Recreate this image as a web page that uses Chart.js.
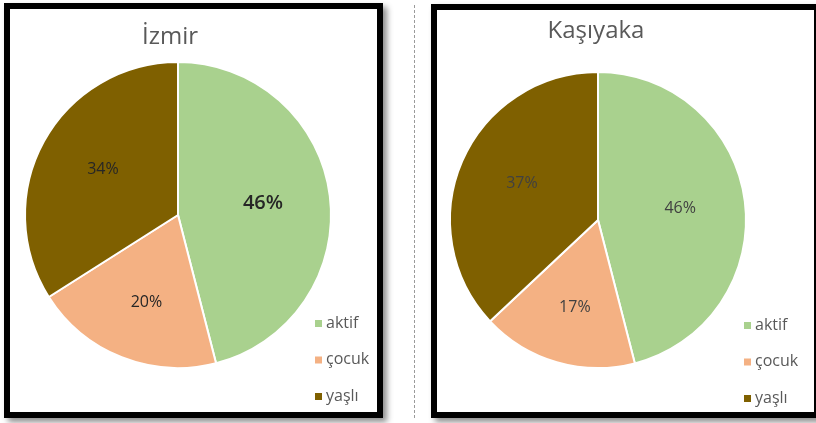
<!DOCTYPE html>
<html>
<head>
<meta charset="utf-8">
<script src="https://cdn.jsdelivr.net/npm/chart.js@4.4.1/dist/chart.umd.min.js"></script>
<style>
  html, body { margin: 0; padding: 0; background: #fff; overflow: hidden; }
  body { width: 816px; height: 423px; position: relative; }
  .panel { position: absolute; border: 6px solid #000; box-sizing: border-box; background: #fff;
           box-shadow: 4px 4px 6px rgba(0,0,0,0.45); }
  .panel canvas { position: absolute; left: 0; top: 0; }
  #p1 { left: 4px; top: 3px; width: 379px; height: 415px; }
  #p2 { left: 431px; top: 4px; width: 389px; height: 414px; }
  .sep { position: absolute; left: 414px; top: 5px; height: 413px; border-left: 1px dashed #9a9a9a; }
</style>
</head>
<body>
<div class="panel" id="p1"><canvas id="izmir" width="367" height="403"></canvas></div>
<div class="sep"></div>
<div class="panel" id="p2"><canvas id="karsiyaka" width="377" height="402"></canvas></div>
<script>
  const categories = ['aktif', 'çocuk', 'yaşlı'];
  const izmirValues = [46, 20, 34];
  const kasiyakaValues = [46, 17, 37];
  const sliceColors = ['#A9D18E', '#F4B183', '#7F6000'];

  const FONT = '"Open Sans", sans-serif';

  // draws title, slice percentages and the small legend in the lower right
  const decor = {
    id: 'decor',
    afterDraw(chart, args, o) {
      const ctx = chart.ctx;
      const ds = chart.data.datasets[0];
      const total = ds.data.reduce((a, b) => a + b, 0);
      ctx.save();

      ctx.fillStyle = '#595959';
      ctx.font = '24px ' + FONT;
      ctx.textAlign = 'center';
      ctx.textBaseline = 'alphabetic';
      ctx.fillText(o.title, o.titleX, o.titleY);

      chart.getDatasetMeta(0).data.forEach((arc, i) => {
        const p = arc.getProps(['x', 'y', 'startAngle', 'endAngle', 'outerRadius']);
        const mid = (p.startAngle + p.endAngle) / 2;
        const d = p.outerRadius * 0.56;
        const big = o.bigIndex === i;
        ctx.font = (big ? '600 20px ' : o.labelWeight + ' 16px ') + FONT;
        ctx.fillStyle = o.labelColor;
        ctx.textBaseline = 'middle';
        ctx.fillText(Math.round(ds.data[i] / total * 100) + '%',
          p.x + Math.cos(mid) * d, p.y + Math.sin(mid) * d * 1.1);
      });

      ctx.font = '16px ' + FONT;
      ctx.textAlign = 'left';
      chart.data.labels.forEach((lab, i) => {
        const y = o.legendY + i * 36.5;
        ctx.fillStyle = ds.backgroundColor[i];
        ctx.fillRect(o.legendX, y - 3, 7, 7);
        ctx.fillStyle = '#595959';
        ctx.fillText(lab, o.legendX + 11, y);
      });
      ctx.restore();
    }
  };

  function makePie(id, values, padding, deco) {
    return new Chart(document.getElementById(id), {
      type: 'pie',
      data: {
        labels: categories,
        datasets: [{
          data: values,
          backgroundColor: sliceColors,
          borderColor: '#ffffff',
          borderWidth: 2
        }]
      },
      options: {
        responsive: false,
        animation: false,
        layout: { padding: padding },
        plugins: {
          legend: { display: false },
          tooltip: { enabled: false },
          decor: deco
        }
      },
      plugins: [decor]
    });
  }

  makePie('izmir', izmirValues,
    { left: 14, right: 45, top: 52, bottom: 43 },
    { title: 'İzmir', titleX: 160, titleY: 35, bigIndex: 0, labelColor: '#262626',
      labelWeight: '500', legendX: 305, legendY: 314 });

  makePie('karsiyaka', kasiyakaValues,
    { left: 12, right: 67, top: 61, bottom: 43 },
    { title: 'Kaşıyaka', titleX: 159, titleY: 28, bigIndex: -1, labelColor: '#404040',
      labelWeight: '400', legendX: 307, legendY: 315 });
</script>
</body>
</html>
